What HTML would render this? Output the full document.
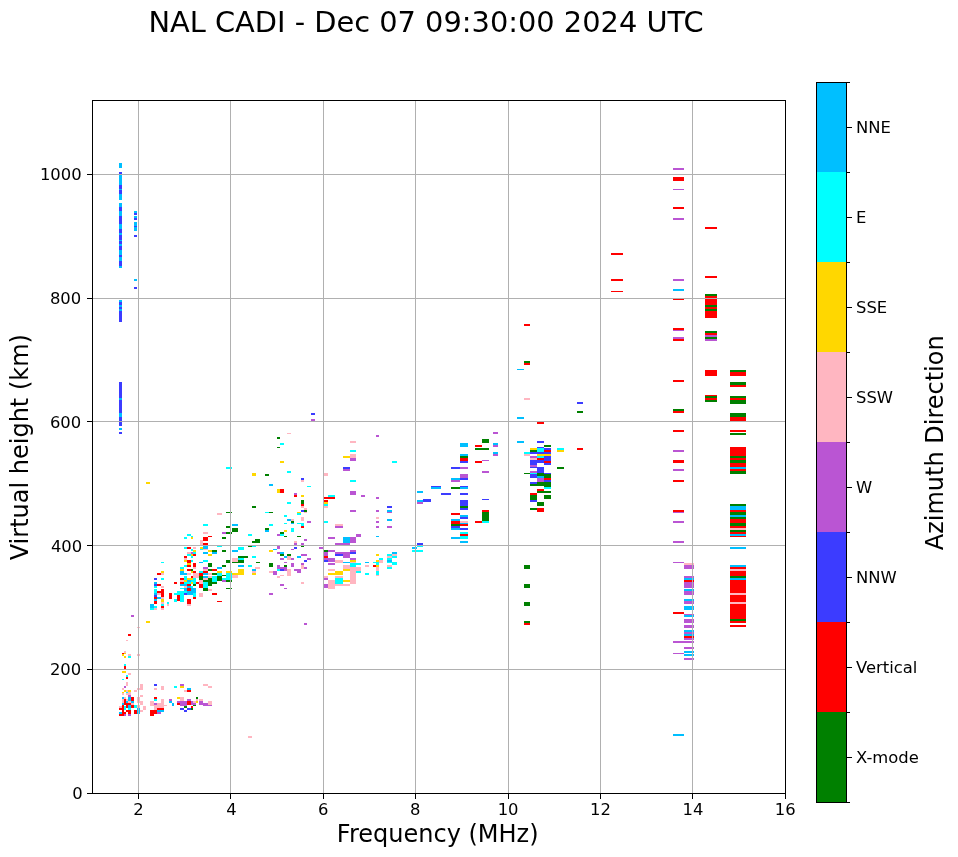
<!DOCTYPE html><html><head><meta charset="utf-8"><style>html,body{margin:0;padding:0;background:#fff;overflow:hidden}svg{display:block}text{font-family:"DejaVu Sans","Liberation Sans",sans-serif;fill:#000}svg{will-change:transform}</style></head><body>
<svg width="958" height="857" viewBox="0 0 958 857" shape-rendering="crispEdges">
<rect width="958" height="857" fill="#fff"/>
<g>
<rect x="119.0" y="163.0" width="3.0" height="5.0" fill="#00bfff"/>
<rect x="119.0" y="172.0" width="3.0" height="2.0" fill="#3c3cff"/>
<rect x="119.0" y="174.0" width="3.0" height="11.0" fill="#00bfff"/>
<rect x="119.0" y="185.0" width="3.0" height="4.0" fill="#3c3cff"/>
<rect x="119.0" y="189.0" width="3.0" height="1.0" fill="#00bfff"/>
<rect x="119.0" y="190.0" width="3.0" height="4.0" fill="#3c3cff"/>
<rect x="119.0" y="194.0" width="3.0" height="6.0" fill="#00bfff"/>
<rect x="119.0" y="203.0" width="3.0" height="4.0" fill="#00bfff"/>
<rect x="119.0" y="207.0" width="3.0" height="4.0" fill="#3c3cff"/>
<rect x="119.0" y="211.0" width="3.0" height="5.0" fill="#00bfff"/>
<rect x="119.0" y="216.0" width="3.0" height="8.0" fill="#3c3cff"/>
<rect x="119.0" y="224.0" width="3.0" height="5.0" fill="#00bfff"/>
<rect x="119.0" y="229.0" width="3.0" height="4.0" fill="#3c3cff"/>
<rect x="119.0" y="233.0" width="3.0" height="2.0" fill="#00bfff"/>
<rect x="119.0" y="235.0" width="3.0" height="5.0" fill="#3c3cff"/>
<rect x="119.0" y="240.0" width="3.0" height="1.0" fill="#00bfff"/>
<rect x="119.0" y="241.0" width="3.0" height="3.0" fill="#3c3cff"/>
<rect x="119.0" y="244.0" width="3.0" height="2.0" fill="#00bfff"/>
<rect x="119.0" y="246.0" width="3.0" height="4.0" fill="#3c3cff"/>
<rect x="119.0" y="250.0" width="3.0" height="5.0" fill="#00bfff"/>
<rect x="119.0" y="255.0" width="3.0" height="2.0" fill="#3c3cff"/>
<rect x="119.0" y="257.0" width="3.0" height="4.0" fill="#00bfff"/>
<rect x="119.0" y="261.0" width="3.0" height="5.0" fill="#3c3cff"/>
<rect x="119.0" y="266.0" width="3.0" height="2.0" fill="#00bfff"/>
<rect x="119.0" y="300.0" width="3.0" height="2.0" fill="#00bfff"/>
<rect x="119.0" y="302.0" width="3.0" height="3.0" fill="#3c3cff"/>
<rect x="119.0" y="305.0" width="3.0" height="2.0" fill="#00bfff"/>
<rect x="119.0" y="307.0" width="3.0" height="2.0" fill="#3c3cff"/>
<rect x="119.0" y="309.0" width="3.0" height="2.0" fill="#00bfff"/>
<rect x="119.0" y="311.0" width="3.0" height="11.0" fill="#3c3cff"/>
<rect x="119.0" y="382.0" width="3.0" height="16.0" fill="#3c3cff"/>
<rect x="119.0" y="398.0" width="3.0" height="2.0" fill="#00bfff"/>
<rect x="119.0" y="400.0" width="3.0" height="13.0" fill="#3c3cff"/>
<rect x="119.0" y="413.0" width="3.0" height="4.0" fill="#00bfff"/>
<rect x="119.0" y="417.0" width="3.0" height="9.0" fill="#3c3cff"/>
<rect x="119.0" y="428.0" width="3.0" height="2.0" fill="#00bfff"/>
<rect x="119.0" y="432.0" width="3.0" height="2.0" fill="#3c3cff"/>
<rect x="134.0" y="211.0" width="3.0" height="2.0" fill="#00bfff"/>
<rect x="134.0" y="213.0" width="3.0" height="2.0" fill="#3c3cff"/>
<rect x="134.0" y="216.0" width="3.0" height="2.0" fill="#00bfff"/>
<rect x="134.0" y="218.0" width="3.0" height="2.0" fill="#3c3cff"/>
<rect x="134.0" y="222.0" width="3.0" height="4.0" fill="#00bfff"/>
<rect x="134.0" y="226.0" width="3.0" height="1.0" fill="#3c3cff"/>
<rect x="134.0" y="227.0" width="3.0" height="4.0" fill="#00bfff"/>
<rect x="134.0" y="235.0" width="3.0" height="2.0" fill="#3c3cff"/>
<rect x="134.0" y="279.0" width="3.0" height="2.0" fill="#00bfff"/>
<rect x="134.0" y="287.0" width="3.0" height="2.0" fill="#3c3cff"/>
<rect x="131.0" y="615.0" width="3.0" height="2.0" fill="#ba55d3"/>
<rect x="146.0" y="621.0" width="4.0" height="2.0" fill="#ffd700"/>
<rect x="137.0" y="627.0" width="3.0" height="1.0" fill="#ffb6c1"/>
<rect x="128.0" y="634.0" width="3.0" height="2.0" fill="#ff0000"/>
<rect x="126.0" y="640.0" width="2.0" height="1.0" fill="#ffb6c1"/>
<rect x="124.0" y="651.0" width="2.0" height="2.0" fill="#ffb6c1"/>
<rect x="122.0" y="653.0" width="2.0" height="1.0" fill="#ff0000"/>
<rect x="124.0" y="653.0" width="2.0" height="1.0" fill="#ffd700"/>
<rect x="122.0" y="654.0" width="2.0" height="2.0" fill="#ffd700"/>
<rect x="128.0" y="654.0" width="3.0" height="2.0" fill="#ffb6c1"/>
<rect x="137.0" y="654.0" width="3.0" height="2.0" fill="#ffb6c1"/>
<rect x="124.0" y="656.0" width="2.0" height="2.0" fill="#ffd700"/>
<rect x="128.0" y="656.0" width="3.0" height="2.0" fill="#00ffff"/>
<rect x="124.0" y="664.0" width="2.0" height="2.0" fill="#00ffff"/>
<rect x="124.0" y="666.0" width="2.0" height="3.0" fill="#ff0000"/>
<rect x="122.0" y="671.0" width="4.0" height="2.0" fill="#ffd700"/>
<rect x="128.0" y="673.0" width="3.0" height="2.0" fill="#ffb6c1"/>
<rect x="126.0" y="675.0" width="2.0" height="2.0" fill="#00ffff"/>
<rect x="126.0" y="677.0" width="2.0" height="2.0" fill="#ff0000"/>
<rect x="122.0" y="679.0" width="2.0" height="1.0" fill="#00ffff"/>
<rect x="126.0" y="682.0" width="2.0" height="4.0" fill="#ffb6c1"/>
<rect x="124.0" y="686.0" width="2.0" height="2.0" fill="#ba55d3"/>
<rect x="122.0" y="688.0" width="2.0" height="2.0" fill="#ffb6c1"/>
<rect x="124.0" y="690.0" width="2.0" height="2.0" fill="#ffd700"/>
<rect x="126.0" y="690.0" width="2.0" height="2.0" fill="#ffb6c1"/>
<rect x="128.0" y="690.0" width="3.0" height="2.0" fill="#ffd700"/>
<rect x="122.0" y="692.0" width="2.0" height="1.0" fill="#ffd700"/>
<rect x="126.0" y="692.0" width="2.0" height="1.0" fill="#00ffff"/>
<rect x="128.0" y="692.0" width="3.0" height="1.0" fill="#ffb6c1"/>
<rect x="122.0" y="693.0" width="2.0" height="2.0" fill="#ffb6c1"/>
<rect x="126.0" y="693.0" width="5.0" height="2.0" fill="#ffb6c1"/>
<rect x="128.0" y="695.0" width="3.0" height="2.0" fill="#ba55d3"/>
<rect x="134.0" y="690.0" width="3.0" height="2.0" fill="#ffb6c1"/>
<rect x="137.0" y="688.0" width="3.0" height="2.0" fill="#ffb6c1"/>
<rect x="140.0" y="684.0" width="3.0" height="6.0" fill="#ffb6c1"/>
<rect x="140.0" y="695.0" width="3.0" height="2.0" fill="#ffb6c1"/>
<rect x="122.0" y="697.0" width="2.0" height="2.0" fill="#00bfff"/>
<rect x="124.0" y="697.0" width="2.0" height="2.0" fill="#ffb6c1"/>
<rect x="128.0" y="697.0" width="3.0" height="4.0" fill="#00bfff"/>
<rect x="131.0" y="697.0" width="3.0" height="4.0" fill="#ff0000"/>
<rect x="137.0" y="697.0" width="3.0" height="6.0" fill="#ffb6c1"/>
<rect x="122.0" y="699.0" width="2.0" height="4.0" fill="#ffb6c1"/>
<rect x="124.0" y="699.0" width="2.0" height="6.0" fill="#ff0000"/>
<rect x="126.0" y="699.0" width="2.0" height="2.0" fill="#ffb6c1"/>
<rect x="126.0" y="701.0" width="2.0" height="2.0" fill="#00bfff"/>
<rect x="128.0" y="701.0" width="3.0" height="2.0" fill="#ffb6c1"/>
<rect x="131.0" y="701.0" width="3.0" height="2.0" fill="#00bfff"/>
<rect x="140.0" y="701.0" width="3.0" height="4.0" fill="#ffb6c1"/>
<rect x="150.0" y="701.0" width="2.0" height="5.0" fill="#ffb6c1"/>
<rect x="122.0" y="703.0" width="2.0" height="2.0" fill="#00bfff"/>
<rect x="126.0" y="703.0" width="5.0" height="2.0" fill="#ff0000"/>
<rect x="131.0" y="703.0" width="3.0" height="2.0" fill="#ffb6c1"/>
<rect x="119.0" y="706.0" width="3.0" height="2.0" fill="#ffb6c1"/>
<rect x="122.0" y="705.0" width="2.0" height="9.0" fill="#ff0000"/>
<rect x="124.0" y="706.0" width="2.0" height="4.0" fill="#00ffff"/>
<rect x="126.0" y="705.0" width="2.0" height="3.0" fill="#ff0000"/>
<rect x="128.0" y="705.0" width="3.0" height="3.0" fill="#00bfff"/>
<rect x="131.0" y="705.0" width="3.0" height="3.0" fill="#ff0000"/>
<rect x="134.0" y="705.0" width="3.0" height="3.0" fill="#00ffff"/>
<rect x="137.0" y="705.0" width="3.0" height="3.0" fill="#ffb6c1"/>
<rect x="143.0" y="706.0" width="3.0" height="4.0" fill="#ffb6c1"/>
<rect x="119.0" y="708.0" width="3.0" height="2.0" fill="#ff0000"/>
<rect x="128.0" y="708.0" width="3.0" height="2.0" fill="#00ffff"/>
<rect x="137.0" y="708.0" width="3.0" height="6.0" fill="#00bfff"/>
<rect x="126.0" y="710.0" width="5.0" height="2.0" fill="#ff0000"/>
<rect x="134.0" y="710.0" width="3.0" height="4.0" fill="#ff0000"/>
<rect x="140.0" y="710.0" width="3.0" height="2.0" fill="#ffb6c1"/>
<rect x="119.0" y="712.0" width="3.0" height="2.0" fill="#00bfff"/>
<rect x="122.0" y="712.0" width="4.0" height="2.0" fill="#ff0000"/>
<rect x="128.0" y="712.0" width="3.0" height="2.0" fill="#ff0000"/>
<rect x="119.0" y="714.0" width="5.0" height="2.0" fill="#ff0000"/>
<rect x="124.0" y="714.0" width="2.0" height="2.0" fill="#ba55d3"/>
<rect x="128.0" y="714.0" width="3.0" height="2.0" fill="#ba55d3"/>
<rect x="150.0" y="710.0" width="2.0" height="6.0" fill="#ff0000"/>
<rect x="150.0" y="604.0" width="4.0" height="4.0" fill="#00bfff"/>
<rect x="150.0" y="608.0" width="4.0" height="2.0" fill="#00ffff"/>
<rect x="154.0" y="578.0" width="3.0" height="2.0" fill="#3c3cff"/>
<rect x="154.0" y="582.0" width="3.0" height="2.0" fill="#00bfff"/>
<rect x="154.0" y="584.0" width="3.0" height="2.0" fill="#3c3cff"/>
<rect x="154.0" y="586.0" width="3.0" height="2.0" fill="#00ffff"/>
<rect x="154.0" y="589.0" width="3.0" height="4.0" fill="#00ffff"/>
<rect x="154.0" y="593.0" width="3.0" height="2.0" fill="#00bfff"/>
<rect x="154.0" y="595.0" width="3.0" height="2.0" fill="#3c3cff"/>
<rect x="154.0" y="597.0" width="3.0" height="2.0" fill="#ff0000"/>
<rect x="154.0" y="599.0" width="3.0" height="2.0" fill="#00bfff"/>
<rect x="154.0" y="601.0" width="3.0" height="3.0" fill="#ff0000"/>
<rect x="154.0" y="606.0" width="3.0" height="2.0" fill="#00ffff"/>
<rect x="154.0" y="608.0" width="3.0" height="2.0" fill="#ffb6c1"/>
<rect x="157.0" y="573.0" width="4.0" height="2.0" fill="#ff0000"/>
<rect x="157.0" y="584.0" width="4.0" height="2.0" fill="#ff0000"/>
<rect x="157.0" y="591.0" width="4.0" height="2.0" fill="#ff0000"/>
<rect x="157.0" y="593.0" width="4.0" height="2.0" fill="#ffb6c1"/>
<rect x="157.0" y="597.0" width="4.0" height="2.0" fill="#00bfff"/>
<rect x="161.0" y="562.0" width="3.0" height="1.0" fill="#00ffff"/>
<rect x="161.0" y="571.0" width="3.0" height="2.0" fill="#ffd700"/>
<rect x="161.0" y="573.0" width="3.0" height="2.0" fill="#ffb6c1"/>
<rect x="161.0" y="578.0" width="3.0" height="2.0" fill="#00ffff"/>
<rect x="161.0" y="586.0" width="3.0" height="2.0" fill="#ffb6c1"/>
<rect x="161.0" y="589.0" width="3.0" height="8.0" fill="#ff0000"/>
<rect x="161.0" y="597.0" width="3.0" height="2.0" fill="#ffb6c1"/>
<rect x="161.0" y="599.0" width="3.0" height="3.0" fill="#ffd700"/>
<rect x="161.0" y="602.0" width="3.0" height="2.0" fill="#ffb6c1"/>
<rect x="161.0" y="604.0" width="3.0" height="2.0" fill="#00ffff"/>
<rect x="161.0" y="606.0" width="3.0" height="2.0" fill="#ff0000"/>
<rect x="161.0" y="608.0" width="3.0" height="2.0" fill="#ffb6c1"/>
<rect x="167.0" y="602.0" width="2.0" height="2.0" fill="#00ffff"/>
<rect x="167.0" y="604.0" width="2.0" height="2.0" fill="#ffb6c1"/>
<rect x="169.0" y="593.0" width="3.0" height="6.0" fill="#ff0000"/>
<rect x="174.0" y="582.0" width="3.0" height="2.0" fill="#ff0000"/>
<rect x="174.0" y="593.0" width="3.0" height="2.0" fill="#00ffff"/>
<rect x="174.0" y="599.0" width="3.0" height="3.0" fill="#00ffff"/>
<rect x="177.0" y="591.0" width="3.0" height="4.0" fill="#00ffff"/>
<rect x="177.0" y="595.0" width="3.0" height="6.0" fill="#ff0000"/>
<rect x="180.0" y="567.0" width="4.0" height="2.0" fill="#00ffff"/>
<rect x="180.0" y="569.0" width="4.0" height="2.0" fill="#ffd700"/>
<rect x="180.0" y="571.0" width="4.0" height="4.0" fill="#00bfff"/>
<rect x="180.0" y="578.0" width="4.0" height="2.0" fill="#ff0000"/>
<rect x="180.0" y="580.0" width="4.0" height="2.0" fill="#ffb6c1"/>
<rect x="180.0" y="582.0" width="4.0" height="2.0" fill="#ff0000"/>
<rect x="180.0" y="584.0" width="4.0" height="2.0" fill="#00bfff"/>
<rect x="180.0" y="588.0" width="4.0" height="1.0" fill="#00ffff"/>
<rect x="180.0" y="591.0" width="4.0" height="11.0" fill="#00ffff"/>
<rect x="184.0" y="560.0" width="3.0" height="2.0" fill="#ffd700"/>
<rect x="184.0" y="565.0" width="3.0" height="2.0" fill="#00ffff"/>
<rect x="184.0" y="573.0" width="3.0" height="2.0" fill="#00bfff"/>
<rect x="184.0" y="576.0" width="3.0" height="4.0" fill="#00ffff"/>
<rect x="184.0" y="580.0" width="3.0" height="2.0" fill="#ffd700"/>
<rect x="184.0" y="582.0" width="3.0" height="2.0" fill="#00ffff"/>
<rect x="184.0" y="584.0" width="3.0" height="2.0" fill="#00bfff"/>
<rect x="184.0" y="586.0" width="3.0" height="2.0" fill="#ffb6c1"/>
<rect x="184.0" y="588.0" width="3.0" height="3.0" fill="#00bfff"/>
<rect x="184.0" y="591.0" width="3.0" height="2.0" fill="#00ffff"/>
<rect x="184.0" y="593.0" width="3.0" height="2.0" fill="#3c3cff"/>
<rect x="187.0" y="560.0" width="4.0" height="3.0" fill="#ff0000"/>
<rect x="187.0" y="563.0" width="4.0" height="2.0" fill="#ffd700"/>
<rect x="187.0" y="565.0" width="4.0" height="2.0" fill="#ff0000"/>
<rect x="187.0" y="569.0" width="4.0" height="2.0" fill="#ff0000"/>
<rect x="187.0" y="573.0" width="4.0" height="2.0" fill="#ffb6c1"/>
<rect x="187.0" y="578.0" width="4.0" height="2.0" fill="#ffd700"/>
<rect x="187.0" y="580.0" width="4.0" height="2.0" fill="#00bfff"/>
<rect x="187.0" y="582.0" width="4.0" height="2.0" fill="#00ffff"/>
<rect x="187.0" y="584.0" width="4.0" height="2.0" fill="#ff0000"/>
<rect x="187.0" y="586.0" width="4.0" height="2.0" fill="#00bfff"/>
<rect x="187.0" y="588.0" width="4.0" height="3.0" fill="#ff0000"/>
<rect x="187.0" y="591.0" width="4.0" height="4.0" fill="#00bfff"/>
<rect x="187.0" y="599.0" width="4.0" height="5.0" fill="#ff0000"/>
<rect x="187.0" y="604.0" width="4.0" height="2.0" fill="#ffb6c1"/>
<rect x="191.0" y="560.0" width="2.0" height="2.0" fill="#00ffff"/>
<rect x="191.0" y="569.0" width="2.0" height="2.0" fill="#008000"/>
<rect x="191.0" y="571.0" width="2.0" height="2.0" fill="#ffd700"/>
<rect x="191.0" y="576.0" width="2.0" height="2.0" fill="#ff0000"/>
<rect x="191.0" y="578.0" width="2.0" height="2.0" fill="#ffd700"/>
<rect x="191.0" y="580.0" width="2.0" height="2.0" fill="#00ffff"/>
<rect x="191.0" y="582.0" width="2.0" height="2.0" fill="#ffd700"/>
<rect x="191.0" y="586.0" width="2.0" height="2.0" fill="#00ffff"/>
<rect x="191.0" y="588.0" width="2.0" height="7.0" fill="#00bfff"/>
<rect x="193.0" y="563.0" width="3.0" height="4.0" fill="#ff0000"/>
<rect x="193.0" y="567.0" width="3.0" height="2.0" fill="#ffb6c1"/>
<rect x="193.0" y="571.0" width="3.0" height="2.0" fill="#ff0000"/>
<rect x="193.0" y="573.0" width="3.0" height="5.0" fill="#ffb6c1"/>
<rect x="193.0" y="578.0" width="3.0" height="6.0" fill="#00ffff"/>
<rect x="193.0" y="584.0" width="3.0" height="2.0" fill="#008000"/>
<rect x="193.0" y="588.0" width="3.0" height="5.0" fill="#00bfff"/>
<rect x="193.0" y="593.0" width="3.0" height="4.0" fill="#00ffff"/>
<rect x="193.0" y="597.0" width="3.0" height="2.0" fill="#ff0000"/>
<rect x="196.0" y="573.0" width="3.0" height="5.0" fill="#ffb6c1"/>
<rect x="196.0" y="582.0" width="3.0" height="2.0" fill="#ff0000"/>
<rect x="199.0" y="562.0" width="4.0" height="1.0" fill="#00bfff"/>
<rect x="199.0" y="571.0" width="4.0" height="2.0" fill="#00ffff"/>
<rect x="199.0" y="573.0" width="4.0" height="3.0" fill="#ff0000"/>
<rect x="199.0" y="576.0" width="4.0" height="4.0" fill="#008000"/>
<rect x="199.0" y="580.0" width="4.0" height="4.0" fill="#ffb6c1"/>
<rect x="199.0" y="584.0" width="4.0" height="4.0" fill="#ff0000"/>
<rect x="199.0" y="593.0" width="4.0" height="4.0" fill="#ffb6c1"/>
<rect x="200.0" y="540.0" width="3.0" height="5.0" fill="#ffb6c1"/>
<rect x="200.0" y="547.0" width="3.0" height="2.0" fill="#ffd700"/>
<rect x="200.0" y="549.0" width="3.0" height="1.0" fill="#00ffff"/>
<rect x="200.0" y="562.0" width="3.0" height="1.0" fill="#00bfff"/>
<rect x="200.0" y="573.0" width="3.0" height="2.0" fill="#ff0000"/>
<rect x="200.0" y="576.0" width="3.0" height="4.0" fill="#008000"/>
<rect x="200.0" y="580.0" width="3.0" height="3.0" fill="#ffb6c1"/>
<rect x="200.0" y="584.0" width="3.0" height="4.0" fill="#ff0000"/>
<rect x="200.0" y="593.0" width="3.0" height="4.0" fill="#ffb6c1"/>
<rect x="203.0" y="540.0" width="5.0" height="1.0" fill="#ff0000"/>
<rect x="203.0" y="543.0" width="5.0" height="2.0" fill="#ff0000"/>
<rect x="203.0" y="546.0" width="5.0" height="3.0" fill="#00bfff"/>
<rect x="203.0" y="549.0" width="5.0" height="1.0" fill="#ffb6c1"/>
<rect x="203.0" y="552.0" width="5.0" height="2.0" fill="#00bfff"/>
<rect x="203.0" y="560.0" width="5.0" height="2.0" fill="#00ffff"/>
<rect x="203.0" y="567.0" width="5.0" height="2.0" fill="#ba55d3"/>
<rect x="203.0" y="569.0" width="5.0" height="2.0" fill="#ffb6c1"/>
<rect x="203.0" y="571.0" width="5.0" height="2.0" fill="#ff0000"/>
<rect x="203.0" y="573.0" width="5.0" height="2.0" fill="#00bfff"/>
<rect x="203.0" y="576.0" width="5.0" height="2.0" fill="#00bfff"/>
<rect x="203.0" y="578.0" width="5.0" height="2.0" fill="#ffb6c1"/>
<rect x="203.0" y="580.0" width="5.0" height="2.0" fill="#008000"/>
<rect x="203.0" y="582.0" width="5.0" height="6.0" fill="#00ffff"/>
<rect x="203.0" y="588.0" width="5.0" height="3.0" fill="#008000"/>
<rect x="208.0" y="550.0" width="4.0" height="2.0" fill="#ffd700"/>
<rect x="208.0" y="554.0" width="4.0" height="2.0" fill="#ffd700"/>
<rect x="208.0" y="563.0" width="4.0" height="4.0" fill="#008000"/>
<rect x="208.0" y="569.0" width="4.0" height="2.0" fill="#008000"/>
<rect x="208.0" y="573.0" width="4.0" height="2.0" fill="#ffb6c1"/>
<rect x="208.0" y="576.0" width="4.0" height="2.0" fill="#ffb6c1"/>
<rect x="208.0" y="578.0" width="4.0" height="8.0" fill="#008000"/>
<rect x="208.0" y="589.0" width="4.0" height="2.0" fill="#ffb6c1"/>
<rect x="212.0" y="550.0" width="5.0" height="2.0" fill="#008000"/>
<rect x="212.0" y="552.0" width="5.0" height="2.0" fill="#00bfff"/>
<rect x="212.0" y="569.0" width="5.0" height="2.0" fill="#ff0000"/>
<rect x="212.0" y="573.0" width="5.0" height="2.0" fill="#008000"/>
<rect x="212.0" y="576.0" width="5.0" height="6.0" fill="#00ffff"/>
<rect x="212.0" y="582.0" width="5.0" height="2.0" fill="#008000"/>
<rect x="212.0" y="593.0" width="5.0" height="2.0" fill="#ff0000"/>
<rect x="217.0" y="546.0" width="5.0" height="1.0" fill="#00ffff"/>
<rect x="217.0" y="567.0" width="5.0" height="2.0" fill="#00bfff"/>
<rect x="217.0" y="571.0" width="5.0" height="2.0" fill="#ffd700"/>
<rect x="217.0" y="573.0" width="5.0" height="3.0" fill="#00ffff"/>
<rect x="217.0" y="576.0" width="5.0" height="5.0" fill="#008000"/>
<rect x="217.0" y="601.0" width="5.0" height="1.0" fill="#ff0000"/>
<rect x="222.0" y="550.0" width="4.0" height="2.0" fill="#008000"/>
<rect x="222.0" y="565.0" width="4.0" height="2.0" fill="#008000"/>
<rect x="222.0" y="575.0" width="4.0" height="1.0" fill="#008000"/>
<rect x="222.0" y="578.0" width="4.0" height="2.0" fill="#00ffff"/>
<rect x="222.0" y="580.0" width="4.0" height="2.0" fill="#ba55d3"/>
<rect x="226.0" y="560.0" width="4.0" height="3.0" fill="#008000"/>
<rect x="226.0" y="571.0" width="6.0" height="2.0" fill="#ffd700"/>
<rect x="226.0" y="573.0" width="6.0" height="7.0" fill="#00ffff"/>
<rect x="226.0" y="580.0" width="6.0" height="2.0" fill="#008000"/>
<rect x="226.0" y="588.0" width="6.0" height="1.0" fill="#008000"/>
<rect x="232.0" y="550.0" width="6.0" height="2.0" fill="#00bfff"/>
<rect x="232.0" y="558.0" width="6.0" height="4.0" fill="#ffb6c1"/>
<rect x="232.0" y="562.0" width="6.0" height="1.0" fill="#008000"/>
<rect x="232.0" y="573.0" width="6.0" height="2.0" fill="#ffd700"/>
<rect x="232.0" y="575.0" width="6.0" height="3.0" fill="#ffb6c1"/>
<rect x="238.0" y="547.0" width="6.0" height="3.0" fill="#00ffff"/>
<rect x="238.0" y="556.0" width="6.0" height="2.0" fill="#008000"/>
<rect x="238.0" y="558.0" width="6.0" height="2.0" fill="#00ffff"/>
<rect x="238.0" y="560.0" width="6.0" height="3.0" fill="#008000"/>
<rect x="238.0" y="565.0" width="6.0" height="2.0" fill="#00bfff"/>
<rect x="238.0" y="569.0" width="6.0" height="6.0" fill="#ffd700"/>
<rect x="244.0" y="556.0" width="4.0" height="2.0" fill="#008000"/>
<rect x="248.0" y="546.0" width="4.0" height="1.0" fill="#008000"/>
<rect x="248.0" y="565.0" width="4.0" height="2.0" fill="#00ffff"/>
<rect x="252.0" y="541.0" width="4.0" height="2.0" fill="#008000"/>
<rect x="252.0" y="546.0" width="4.0" height="1.0" fill="#00ffff"/>
<rect x="252.0" y="556.0" width="4.0" height="2.0" fill="#00ffff"/>
<rect x="252.0" y="569.0" width="4.0" height="2.0" fill="#00bfff"/>
<rect x="252.0" y="571.0" width="4.0" height="2.0" fill="#ffb6c1"/>
<rect x="252.0" y="573.0" width="4.0" height="2.0" fill="#ffd700"/>
<rect x="256.0" y="540.0" width="4.0" height="3.0" fill="#008000"/>
<rect x="256.0" y="562.0" width="4.0" height="1.0" fill="#008000"/>
<rect x="256.0" y="567.0" width="4.0" height="2.0" fill="#ffb6c1"/>
<rect x="146.0" y="482.0" width="4.0" height="2.0" fill="#ffd700"/>
<rect x="187.0" y="534.0" width="4.0" height="2.0" fill="#00ffff"/>
<rect x="191.0" y="536.0" width="2.0" height="1.0" fill="#00ffff"/>
<rect x="191.0" y="537.0" width="2.0" height="2.0" fill="#ffd700"/>
<rect x="184.0" y="537.0" width="3.0" height="2.0" fill="#00ffff"/>
<rect x="184.0" y="547.0" width="3.0" height="2.0" fill="#00ffff"/>
<rect x="187.0" y="547.0" width="4.0" height="2.0" fill="#ff0000"/>
<rect x="193.0" y="547.0" width="3.0" height="2.0" fill="#ffb6c1"/>
<rect x="191.0" y="549.0" width="2.0" height="2.0" fill="#00ffff"/>
<rect x="193.0" y="550.0" width="3.0" height="2.0" fill="#ffd700"/>
<rect x="187.0" y="552.0" width="4.0" height="2.0" fill="#ffb6c1"/>
<rect x="191.0" y="552.0" width="2.0" height="2.0" fill="#ba55d3"/>
<rect x="193.0" y="552.0" width="3.0" height="2.0" fill="#00ffff"/>
<rect x="187.0" y="554.0" width="4.0" height="2.0" fill="#00ffff"/>
<rect x="191.0" y="554.0" width="2.0" height="2.0" fill="#ffd700"/>
<rect x="193.0" y="554.0" width="3.0" height="2.0" fill="#ff0000"/>
<rect x="184.0" y="556.0" width="3.0" height="2.0" fill="#ff0000"/>
<rect x="191.0" y="556.0" width="2.0" height="2.0" fill="#00ffff"/>
<rect x="184.0" y="558.0" width="3.0" height="2.0" fill="#ffb6c1"/>
<rect x="252.0" y="506.0" width="4.0" height="2.0" fill="#008000"/>
<rect x="226.0" y="512.0" width="6.0" height="1.0" fill="#008000"/>
<rect x="217.0" y="513.0" width="5.0" height="2.0" fill="#ffb6c1"/>
<rect x="203.0" y="524.0" width="5.0" height="2.0" fill="#00ffff"/>
<rect x="232.0" y="524.0" width="6.0" height="2.0" fill="#00bfff"/>
<rect x="226.0" y="526.0" width="5.0" height="2.0" fill="#008000"/>
<rect x="232.0" y="528.0" width="6.0" height="4.0" fill="#008000"/>
<rect x="203.0" y="532.0" width="5.0" height="2.0" fill="#ffb6c1"/>
<rect x="222.0" y="532.0" width="4.0" height="2.0" fill="#ba55d3"/>
<rect x="226.0" y="532.0" width="6.0" height="2.0" fill="#008000"/>
<rect x="248.0" y="534.0" width="4.0" height="2.0" fill="#00ffff"/>
<rect x="208.0" y="536.0" width="4.0" height="1.0" fill="#ff0000"/>
<rect x="203.0" y="537.0" width="5.0" height="4.0" fill="#ff0000"/>
<rect x="222.0" y="537.0" width="4.0" height="2.0" fill="#008000"/>
<rect x="256.0" y="539.0" width="4.0" height="1.0" fill="#008000"/>
<rect x="280.0" y="443.0" width="4.0" height="2.0" fill="#00ffff"/>
<rect x="277.0" y="447.0" width="3.0" height="1.0" fill="#008000"/>
<rect x="280.0" y="461.0" width="4.0" height="2.0" fill="#ffd700"/>
<rect x="252.0" y="473.0" width="4.0" height="3.0" fill="#ffd700"/>
<rect x="265.0" y="474.0" width="4.0" height="2.0" fill="#008000"/>
<rect x="287.0" y="471.0" width="4.0" height="2.0" fill="#00ffff"/>
<rect x="324.0" y="473.0" width="4.0" height="3.0" fill="#ffb6c1"/>
<rect x="301.0" y="478.0" width="3.0" height="2.0" fill="#3c3cff"/>
<rect x="301.0" y="480.0" width="3.0" height="2.0" fill="#ffb6c1"/>
<rect x="269.0" y="484.0" width="4.0" height="2.0" fill="#00bfff"/>
<rect x="307.0" y="486.0" width="4.0" height="1.0" fill="#00ffff"/>
<rect x="277.0" y="489.0" width="3.0" height="4.0" fill="#ffd700"/>
<rect x="280.0" y="489.0" width="4.0" height="4.0" fill="#ff0000"/>
<rect x="294.0" y="493.0" width="3.0" height="2.0" fill="#ba55d3"/>
<rect x="294.0" y="495.0" width="3.0" height="2.0" fill="#ff0000"/>
<rect x="301.0" y="495.0" width="3.0" height="2.0" fill="#ffd700"/>
<rect x="328.0" y="495.0" width="7.0" height="2.0" fill="#00ffff"/>
<rect x="324.0" y="497.0" width="11.0" height="2.0" fill="#ff0000"/>
<rect x="324.0" y="500.0" width="4.0" height="2.0" fill="#ff0000"/>
<rect x="324.0" y="502.0" width="4.0" height="2.0" fill="#ffd700"/>
<rect x="324.0" y="504.0" width="4.0" height="2.0" fill="#00ffff"/>
<rect x="324.0" y="506.0" width="4.0" height="2.0" fill="#ffb6c1"/>
<rect x="287.0" y="502.0" width="4.0" height="2.0" fill="#00ffff"/>
<rect x="301.0" y="500.0" width="3.0" height="4.0" fill="#008000"/>
<rect x="301.0" y="504.0" width="3.0" height="2.0" fill="#ff0000"/>
<rect x="301.0" y="506.0" width="3.0" height="2.0" fill="#ffb6c1"/>
<rect x="252.0" y="506.0" width="4.0" height="2.0" fill="#008000"/>
<rect x="304.0" y="508.0" width="3.0" height="2.0" fill="#ffb6c1"/>
<rect x="304.0" y="510.0" width="3.0" height="2.0" fill="#008000"/>
<rect x="304.0" y="512.0" width="3.0" height="1.0" fill="#ffb6c1"/>
<rect x="301.0" y="510.0" width="3.0" height="2.0" fill="#3c3cff"/>
<rect x="297.0" y="512.0" width="4.0" height="1.0" fill="#ffd700"/>
<rect x="297.0" y="513.0" width="4.0" height="2.0" fill="#00ffff"/>
<rect x="265.0" y="512.0" width="4.0" height="1.0" fill="#00ffff"/>
<rect x="269.0" y="512.0" width="4.0" height="1.0" fill="#008000"/>
<rect x="284.0" y="515.0" width="3.0" height="2.0" fill="#00ffff"/>
<rect x="301.0" y="517.0" width="3.0" height="4.0" fill="#ffb6c1"/>
<rect x="291.0" y="519.0" width="3.0" height="2.0" fill="#ffb6c1"/>
<rect x="287.0" y="519.0" width="4.0" height="2.0" fill="#00bfff"/>
<rect x="291.0" y="521.0" width="3.0" height="2.0" fill="#008000"/>
<rect x="291.0" y="523.0" width="3.0" height="1.0" fill="#00bfff"/>
<rect x="307.0" y="521.0" width="4.0" height="2.0" fill="#ba55d3"/>
<rect x="269.0" y="524.0" width="4.0" height="2.0" fill="#00ffff"/>
<rect x="284.0" y="523.0" width="3.0" height="1.0" fill="#00ffff"/>
<rect x="297.0" y="523.0" width="7.0" height="1.0" fill="#00ffff"/>
<rect x="301.0" y="524.0" width="3.0" height="2.0" fill="#00ffff"/>
<rect x="301.0" y="526.0" width="3.0" height="2.0" fill="#ff0000"/>
<rect x="265.0" y="528.0" width="4.0" height="2.0" fill="#008000"/>
<rect x="265.0" y="530.0" width="4.0" height="2.0" fill="#00bfff"/>
<rect x="291.0" y="528.0" width="3.0" height="4.0" fill="#00ffff"/>
<rect x="284.0" y="530.0" width="3.0" height="2.0" fill="#ffd700"/>
<rect x="280.0" y="532.0" width="4.0" height="2.0" fill="#008000"/>
<rect x="280.0" y="534.0" width="4.0" height="2.0" fill="#00ffff"/>
<rect x="277.0" y="534.0" width="3.0" height="2.0" fill="#ba55d3"/>
<rect x="284.0" y="536.0" width="3.0" height="1.0" fill="#008000"/>
<rect x="297.0" y="536.0" width="4.0" height="1.0" fill="#008000"/>
<rect x="328.0" y="537.0" width="7.0" height="2.0" fill="#ba55d3"/>
<rect x="255.0" y="539.0" width="5.0" height="4.0" fill="#008000"/>
<rect x="304.0" y="539.0" width="3.0" height="2.0" fill="#ba55d3"/>
<rect x="294.0" y="541.0" width="3.0" height="2.0" fill="#ffb6c1"/>
<rect x="294.0" y="543.0" width="3.0" height="2.0" fill="#ba55d3"/>
<rect x="301.0" y="543.0" width="3.0" height="2.0" fill="#ba55d3"/>
<rect x="277.0" y="546.0" width="3.0" height="3.0" fill="#ba55d3"/>
<rect x="294.0" y="547.0" width="3.0" height="2.0" fill="#3c3cff"/>
<rect x="301.0" y="546.0" width="3.0" height="1.0" fill="#008000"/>
<rect x="319.0" y="547.0" width="4.0" height="2.0" fill="#ba55d3"/>
<rect x="273.0" y="549.0" width="4.0" height="1.0" fill="#00bfff"/>
<rect x="291.0" y="549.0" width="3.0" height="1.0" fill="#ba55d3"/>
<rect x="269.0" y="550.0" width="4.0" height="2.0" fill="#ffd700"/>
<rect x="324.0" y="550.0" width="4.0" height="2.0" fill="#008000"/>
<rect x="328.0" y="550.0" width="7.0" height="2.0" fill="#ba55d3"/>
<rect x="277.0" y="552.0" width="3.0" height="2.0" fill="#ba55d3"/>
<rect x="280.0" y="552.0" width="4.0" height="2.0" fill="#00bfff"/>
<rect x="324.0" y="552.0" width="4.0" height="4.0" fill="#ba55d3"/>
<rect x="280.0" y="554.0" width="4.0" height="2.0" fill="#008000"/>
<rect x="287.0" y="554.0" width="4.0" height="2.0" fill="#008000"/>
<rect x="301.0" y="554.0" width="6.0" height="2.0" fill="#ba55d3"/>
<rect x="284.0" y="556.0" width="3.0" height="2.0" fill="#00bfff"/>
<rect x="287.0" y="556.0" width="4.0" height="4.0" fill="#ffb6c1"/>
<rect x="297.0" y="556.0" width="4.0" height="2.0" fill="#00bfff"/>
<rect x="324.0" y="556.0" width="4.0" height="2.0" fill="#ff0000"/>
<rect x="280.0" y="558.0" width="4.0" height="2.0" fill="#ba55d3"/>
<rect x="291.0" y="558.0" width="3.0" height="2.0" fill="#ba55d3"/>
<rect x="307.0" y="558.0" width="4.0" height="2.0" fill="#ba55d3"/>
<rect x="324.0" y="558.0" width="11.0" height="2.0" fill="#ba55d3"/>
<rect x="304.0" y="560.0" width="3.0" height="2.0" fill="#3c3cff"/>
<rect x="284.0" y="562.0" width="3.0" height="1.0" fill="#ba55d3"/>
<rect x="269.0" y="563.0" width="4.0" height="4.0" fill="#008000"/>
<rect x="277.0" y="565.0" width="3.0" height="2.0" fill="#ba55d3"/>
<rect x="284.0" y="565.0" width="3.0" height="2.0" fill="#008000"/>
<rect x="291.0" y="563.0" width="3.0" height="4.0" fill="#ba55d3"/>
<rect x="301.0" y="563.0" width="3.0" height="2.0" fill="#ba55d3"/>
<rect x="301.0" y="565.0" width="3.0" height="4.0" fill="#ffb6c1"/>
<rect x="255.0" y="567.0" width="5.0" height="2.0" fill="#ffb6c1"/>
<rect x="277.0" y="567.0" width="10.0" height="2.0" fill="#ba55d3"/>
<rect x="304.0" y="567.0" width="3.0" height="2.0" fill="#ba55d3"/>
<rect x="277.0" y="569.0" width="3.0" height="2.0" fill="#00ffff"/>
<rect x="280.0" y="569.0" width="4.0" height="2.0" fill="#3c3cff"/>
<rect x="284.0" y="569.0" width="3.0" height="2.0" fill="#ba55d3"/>
<rect x="294.0" y="569.0" width="7.0" height="2.0" fill="#ba55d3"/>
<rect x="297.0" y="571.0" width="4.0" height="2.0" fill="#ba55d3"/>
<rect x="287.0" y="569.0" width="4.0" height="7.0" fill="#ffb6c1"/>
<rect x="269.0" y="571.0" width="4.0" height="2.0" fill="#ffb6c1"/>
<rect x="273.0" y="571.0" width="4.0" height="4.0" fill="#ba55d3"/>
<rect x="280.0" y="575.0" width="4.0" height="1.0" fill="#ffb6c1"/>
<rect x="277.0" y="576.0" width="3.0" height="2.0" fill="#ffb6c1"/>
<rect x="301.0" y="582.0" width="3.0" height="2.0" fill="#ffb6c1"/>
<rect x="280.0" y="584.0" width="4.0" height="2.0" fill="#ba55d3"/>
<rect x="284.0" y="588.0" width="3.0" height="1.0" fill="#ba55d3"/>
<rect x="269.0" y="593.0" width="4.0" height="2.0" fill="#ba55d3"/>
<rect x="304.0" y="623.0" width="3.0" height="2.0" fill="#ba55d3"/>
<rect x="376.0" y="435.0" width="3.0" height="2.0" fill="#ba55d3"/>
<rect x="350.0" y="441.0" width="6.0" height="2.0" fill="#ffb6c1"/>
<rect x="350.0" y="450.0" width="6.0" height="2.0" fill="#00ffff"/>
<rect x="350.0" y="454.0" width="6.0" height="4.0" fill="#ffb6c1"/>
<rect x="343.0" y="456.0" width="7.0" height="2.0" fill="#ffd700"/>
<rect x="350.0" y="458.0" width="6.0" height="3.0" fill="#ba55d3"/>
<rect x="392.0" y="461.0" width="5.0" height="2.0" fill="#00ffff"/>
<rect x="343.0" y="467.0" width="7.0" height="2.0" fill="#3c3cff"/>
<rect x="343.0" y="469.0" width="7.0" height="2.0" fill="#ba55d3"/>
<rect x="350.0" y="480.0" width="6.0" height="2.0" fill="#00ffff"/>
<rect x="350.0" y="491.0" width="6.0" height="4.0" fill="#ba55d3"/>
<rect x="361.0" y="495.0" width="4.0" height="2.0" fill="#ba55d3"/>
<rect x="376.0" y="497.0" width="3.0" height="2.0" fill="#ba55d3"/>
<rect x="387.0" y="506.0" width="5.0" height="2.0" fill="#3c3cff"/>
<rect x="350.0" y="510.0" width="6.0" height="2.0" fill="#ba55d3"/>
<rect x="376.0" y="510.0" width="3.0" height="2.0" fill="#ba55d3"/>
<rect x="387.0" y="510.0" width="5.0" height="2.0" fill="#00bfff"/>
<rect x="387.0" y="512.0" width="5.0" height="1.0" fill="#ba55d3"/>
<rect x="376.0" y="517.0" width="3.0" height="2.0" fill="#ffb6c1"/>
<rect x="387.0" y="519.0" width="5.0" height="2.0" fill="#00bfff"/>
<rect x="324.0" y="521.0" width="4.0" height="2.0" fill="#00ffff"/>
<rect x="376.0" y="521.0" width="3.0" height="2.0" fill="#ba55d3"/>
<rect x="335.0" y="524.0" width="8.0" height="2.0" fill="#ffb6c1"/>
<rect x="335.0" y="526.0" width="8.0" height="2.0" fill="#ba55d3"/>
<rect x="376.0" y="526.0" width="3.0" height="2.0" fill="#ba55d3"/>
<rect x="387.0" y="526.0" width="5.0" height="2.0" fill="#ba55d3"/>
<rect x="356.0" y="534.0" width="5.0" height="3.0" fill="#ba55d3"/>
<rect x="376.0" y="536.0" width="3.0" height="1.0" fill="#00bfff"/>
<rect x="343.0" y="537.0" width="7.0" height="6.0" fill="#00bfff"/>
<rect x="350.0" y="537.0" width="6.0" height="6.0" fill="#ba55d3"/>
<rect x="324.0" y="558.0" width="4.0" height="2.0" fill="#ba55d3"/>
<rect x="328.0" y="558.0" width="7.0" height="4.0" fill="#ba55d3"/>
<rect x="328.0" y="563.0" width="7.0" height="2.0" fill="#ba55d3"/>
<rect x="328.0" y="569.0" width="7.0" height="2.0" fill="#ffb6c1"/>
<rect x="328.0" y="573.0" width="7.0" height="2.0" fill="#ffd700"/>
<rect x="324.0" y="576.0" width="4.0" height="2.0" fill="#ffb6c1"/>
<rect x="324.0" y="578.0" width="4.0" height="2.0" fill="#ba55d3"/>
<rect x="328.0" y="580.0" width="7.0" height="9.0" fill="#ffb6c1"/>
<rect x="324.0" y="584.0" width="4.0" height="4.0" fill="#ba55d3"/>
<rect x="335.0" y="543.0" width="15.0" height="2.0" fill="#ba55d3"/>
<rect x="335.0" y="552.0" width="15.0" height="2.0" fill="#ba55d3"/>
<rect x="350.0" y="550.0" width="6.0" height="2.0" fill="#ba55d3"/>
<rect x="350.0" y="552.0" width="6.0" height="2.0" fill="#3c3cff"/>
<rect x="335.0" y="554.0" width="8.0" height="2.0" fill="#3c3cff"/>
<rect x="343.0" y="554.0" width="7.0" height="4.0" fill="#ba55d3"/>
<rect x="376.0" y="554.0" width="3.0" height="2.0" fill="#ffd700"/>
<rect x="392.0" y="552.0" width="5.0" height="2.0" fill="#00bfff"/>
<rect x="387.0" y="554.0" width="5.0" height="2.0" fill="#00ffff"/>
<rect x="392.0" y="554.0" width="5.0" height="2.0" fill="#ffb6c1"/>
<rect x="392.0" y="556.0" width="5.0" height="2.0" fill="#00ffff"/>
<rect x="387.0" y="556.0" width="5.0" height="2.0" fill="#ffb6c1"/>
<rect x="350.0" y="558.0" width="6.0" height="2.0" fill="#ba55d3"/>
<rect x="350.0" y="560.0" width="6.0" height="2.0" fill="#ffd700"/>
<rect x="335.0" y="560.0" width="8.0" height="3.0" fill="#ffb6c1"/>
<rect x="379.0" y="558.0" width="4.0" height="2.0" fill="#00ffff"/>
<rect x="379.0" y="560.0" width="4.0" height="3.0" fill="#ffb6c1"/>
<rect x="376.0" y="560.0" width="3.0" height="2.0" fill="#ffd700"/>
<rect x="387.0" y="558.0" width="5.0" height="2.0" fill="#00ffff"/>
<rect x="387.0" y="560.0" width="5.0" height="2.0" fill="#00bfff"/>
<rect x="387.0" y="562.0" width="5.0" height="1.0" fill="#00ffff"/>
<rect x="343.0" y="562.0" width="7.0" height="1.0" fill="#00bfff"/>
<rect x="350.0" y="562.0" width="6.0" height="1.0" fill="#ffb6c1"/>
<rect x="356.0" y="563.0" width="5.0" height="2.0" fill="#00ffff"/>
<rect x="350.0" y="563.0" width="6.0" height="4.0" fill="#00ffff"/>
<rect x="365.0" y="562.0" width="4.0" height="1.0" fill="#00bfff"/>
<rect x="373.0" y="562.0" width="3.0" height="1.0" fill="#00ffff"/>
<rect x="376.0" y="562.0" width="3.0" height="3.0" fill="#00ffff"/>
<rect x="392.0" y="562.0" width="5.0" height="3.0" fill="#00ffff"/>
<rect x="343.0" y="565.0" width="7.0" height="4.0" fill="#ffb6c1"/>
<rect x="365.0" y="565.0" width="4.0" height="2.0" fill="#ffb6c1"/>
<rect x="373.0" y="565.0" width="3.0" height="2.0" fill="#ff0000"/>
<rect x="376.0" y="565.0" width="3.0" height="2.0" fill="#ffd700"/>
<rect x="387.0" y="565.0" width="5.0" height="2.0" fill="#ffb6c1"/>
<rect x="387.0" y="567.0" width="5.0" height="2.0" fill="#00ffff"/>
<rect x="350.0" y="567.0" width="11.0" height="4.0" fill="#ffb6c1"/>
<rect x="356.0" y="571.0" width="5.0" height="2.0" fill="#00ffff"/>
<rect x="343.0" y="569.0" width="7.0" height="2.0" fill="#ffd700"/>
<rect x="335.0" y="571.0" width="8.0" height="4.0" fill="#ffd700"/>
<rect x="350.0" y="571.0" width="6.0" height="13.0" fill="#ffb6c1"/>
<rect x="376.0" y="567.0" width="3.0" height="4.0" fill="#ffb6c1"/>
<rect x="376.0" y="571.0" width="3.0" height="4.0" fill="#00ffff"/>
<rect x="376.0" y="575.0" width="3.0" height="1.0" fill="#ffb6c1"/>
<rect x="365.0" y="573.0" width="4.0" height="2.0" fill="#00ffff"/>
<rect x="335.0" y="576.0" width="8.0" height="2.0" fill="#ffb6c1"/>
<rect x="335.0" y="578.0" width="8.0" height="6.0" fill="#00ffff"/>
<rect x="343.0" y="580.0" width="7.0" height="2.0" fill="#ffd700"/>
<rect x="335.0" y="584.0" width="15.0" height="2.0" fill="#ffb6c1"/>
<rect x="324.0" y="560.0" width="4.0" height="2.0" fill="#3c3cff"/>
<rect x="460.0" y="443.0" width="8.0" height="4.0" fill="#00bfff"/>
<rect x="460.0" y="454.0" width="8.0" height="2.0" fill="#00bfff"/>
<rect x="460.0" y="456.0" width="8.0" height="2.0" fill="#008000"/>
<rect x="460.0" y="458.0" width="8.0" height="3.0" fill="#ff0000"/>
<rect x="460.0" y="461.0" width="8.0" height="2.0" fill="#3c3cff"/>
<rect x="451.0" y="467.0" width="9.0" height="2.0" fill="#3c3cff"/>
<rect x="460.0" y="467.0" width="8.0" height="2.0" fill="#ba55d3"/>
<rect x="460.0" y="474.0" width="8.0" height="4.0" fill="#ba55d3"/>
<rect x="460.0" y="478.0" width="8.0" height="2.0" fill="#3c3cff"/>
<rect x="451.0" y="478.0" width="9.0" height="2.0" fill="#00bfff"/>
<rect x="451.0" y="480.0" width="9.0" height="2.0" fill="#ba55d3"/>
<rect x="431.0" y="486.0" width="10.0" height="1.0" fill="#3c3cff"/>
<rect x="431.0" y="487.0" width="10.0" height="2.0" fill="#00bfff"/>
<rect x="451.0" y="487.0" width="9.0" height="2.0" fill="#008000"/>
<rect x="460.0" y="486.0" width="8.0" height="1.0" fill="#3c3cff"/>
<rect x="460.0" y="487.0" width="8.0" height="2.0" fill="#00bfff"/>
<rect x="417.0" y="491.0" width="6.0" height="2.0" fill="#00bfff"/>
<rect x="441.0" y="493.0" width="10.0" height="2.0" fill="#3c3cff"/>
<rect x="460.0" y="493.0" width="8.0" height="2.0" fill="#3c3cff"/>
<rect x="423.0" y="499.0" width="8.0" height="3.0" fill="#3c3cff"/>
<rect x="417.0" y="500.0" width="6.0" height="2.0" fill="#00bfff"/>
<rect x="417.0" y="502.0" width="6.0" height="2.0" fill="#ba55d3"/>
<rect x="460.0" y="500.0" width="8.0" height="6.0" fill="#3c3cff"/>
<rect x="460.0" y="506.0" width="8.0" height="2.0" fill="#008000"/>
<rect x="460.0" y="508.0" width="8.0" height="2.0" fill="#3c3cff"/>
<rect x="451.0" y="513.0" width="9.0" height="2.0" fill="#ff0000"/>
<rect x="460.0" y="515.0" width="8.0" height="2.0" fill="#00bfff"/>
<rect x="460.0" y="517.0" width="8.0" height="2.0" fill="#3c3cff"/>
<rect x="451.0" y="519.0" width="9.0" height="2.0" fill="#00bfff"/>
<rect x="451.0" y="521.0" width="9.0" height="3.0" fill="#ff0000"/>
<rect x="451.0" y="524.0" width="9.0" height="2.0" fill="#008000"/>
<rect x="451.0" y="526.0" width="9.0" height="2.0" fill="#3c3cff"/>
<rect x="451.0" y="528.0" width="9.0" height="2.0" fill="#00bfff"/>
<rect x="460.0" y="521.0" width="8.0" height="2.0" fill="#ffb6c1"/>
<rect x="460.0" y="523.0" width="8.0" height="1.0" fill="#00bfff"/>
<rect x="460.0" y="524.0" width="8.0" height="2.0" fill="#ff0000"/>
<rect x="460.0" y="528.0" width="8.0" height="2.0" fill="#3c3cff"/>
<rect x="460.0" y="532.0" width="8.0" height="2.0" fill="#00ffff"/>
<rect x="460.0" y="534.0" width="8.0" height="2.0" fill="#ff0000"/>
<rect x="460.0" y="536.0" width="8.0" height="3.0" fill="#00ffff"/>
<rect x="451.0" y="537.0" width="9.0" height="2.0" fill="#00bfff"/>
<rect x="460.0" y="541.0" width="8.0" height="2.0" fill="#00bfff"/>
<rect x="417.0" y="543.0" width="6.0" height="2.0" fill="#3c3cff"/>
<rect x="417.0" y="545.0" width="6.0" height="2.0" fill="#00ffff"/>
<rect x="412.0" y="547.0" width="5.0" height="2.0" fill="#00bfff"/>
<rect x="412.0" y="550.0" width="11.0" height="2.0" fill="#00ffff"/>
<rect x="493.0" y="432.0" width="5.0" height="2.0" fill="#ba55d3"/>
<rect x="482.0" y="439.0" width="7.0" height="4.0" fill="#008000"/>
<rect x="475.0" y="445.0" width="7.0" height="2.0" fill="#ff0000"/>
<rect x="493.0" y="443.0" width="5.0" height="2.0" fill="#00bfff"/>
<rect x="493.0" y="445.0" width="5.0" height="2.0" fill="#ba55d3"/>
<rect x="475.0" y="448.0" width="14.0" height="2.0" fill="#008000"/>
<rect x="493.0" y="452.0" width="5.0" height="2.0" fill="#00bfff"/>
<rect x="493.0" y="454.0" width="5.0" height="2.0" fill="#ba55d3"/>
<rect x="482.0" y="460.0" width="7.0" height="1.0" fill="#ba55d3"/>
<rect x="475.0" y="461.0" width="7.0" height="2.0" fill="#ff0000"/>
<rect x="482.0" y="471.0" width="7.0" height="2.0" fill="#ba55d3"/>
<rect x="482.0" y="499.0" width="7.0" height="1.0" fill="#3c3cff"/>
<rect x="482.0" y="510.0" width="7.0" height="2.0" fill="#ff0000"/>
<rect x="482.0" y="512.0" width="7.0" height="9.0" fill="#008000"/>
<rect x="482.0" y="521.0" width="7.0" height="2.0" fill="#00ffff"/>
<rect x="475.0" y="521.0" width="7.0" height="2.0" fill="#ff0000"/>
<rect x="517.0" y="417.0" width="7.0" height="2.0" fill="#00bfff"/>
<rect x="537.0" y="422.0" width="7.0" height="2.0" fill="#ff0000"/>
<rect x="517.0" y="441.0" width="7.0" height="2.0" fill="#00bfff"/>
<rect x="537.0" y="441.0" width="7.0" height="2.0" fill="#3c3cff"/>
<rect x="544.0" y="445.0" width="7.0" height="2.0" fill="#008000"/>
<rect x="537.0" y="447.0" width="7.0" height="1.0" fill="#3c3cff"/>
<rect x="530.0" y="448.0" width="7.0" height="2.0" fill="#ffd700"/>
<rect x="530.0" y="450.0" width="7.0" height="2.0" fill="#008000"/>
<rect x="537.0" y="448.0" width="7.0" height="4.0" fill="#00ffff"/>
<rect x="544.0" y="448.0" width="7.0" height="2.0" fill="#3c3cff"/>
<rect x="544.0" y="450.0" width="7.0" height="2.0" fill="#ff0000"/>
<rect x="557.0" y="448.0" width="7.0" height="2.0" fill="#00ffff"/>
<rect x="557.0" y="450.0" width="7.0" height="2.0" fill="#ffd700"/>
<rect x="524.0" y="452.0" width="6.0" height="2.0" fill="#00ffff"/>
<rect x="524.0" y="454.0" width="6.0" height="2.0" fill="#ffb6c1"/>
<rect x="530.0" y="452.0" width="21.0" height="2.0" fill="#3c3cff"/>
<rect x="537.0" y="454.0" width="14.0" height="2.0" fill="#ffd700"/>
<rect x="530.0" y="456.0" width="7.0" height="2.0" fill="#ba55d3"/>
<rect x="530.0" y="458.0" width="7.0" height="2.0" fill="#ffb6c1"/>
<rect x="537.0" y="456.0" width="7.0" height="2.0" fill="#00ffff"/>
<rect x="537.0" y="458.0" width="7.0" height="2.0" fill="#ff0000"/>
<rect x="544.0" y="456.0" width="7.0" height="5.0" fill="#3c3cff"/>
<rect x="544.0" y="461.0" width="7.0" height="2.0" fill="#ff0000"/>
<rect x="544.0" y="463.0" width="7.0" height="2.0" fill="#3c3cff"/>
<rect x="530.0" y="460.0" width="14.0" height="3.0" fill="#3c3cff"/>
<rect x="530.0" y="463.0" width="7.0" height="2.0" fill="#3c3cff"/>
<rect x="530.0" y="465.0" width="7.0" height="2.0" fill="#ba55d3"/>
<rect x="530.0" y="467.0" width="7.0" height="1.0" fill="#3c3cff"/>
<rect x="537.0" y="467.0" width="7.0" height="6.0" fill="#3c3cff"/>
<rect x="557.0" y="467.0" width="7.0" height="2.0" fill="#008000"/>
<rect x="530.0" y="471.0" width="7.0" height="2.0" fill="#ba55d3"/>
<rect x="524.0" y="473.0" width="6.0" height="1.0" fill="#008000"/>
<rect x="530.0" y="473.0" width="7.0" height="1.0" fill="#00ffff"/>
<rect x="530.0" y="474.0" width="7.0" height="4.0" fill="#3c3cff"/>
<rect x="537.0" y="473.0" width="7.0" height="3.0" fill="#008000"/>
<rect x="537.0" y="476.0" width="7.0" height="2.0" fill="#00bfff"/>
<rect x="544.0" y="473.0" width="7.0" height="1.0" fill="#3c3cff"/>
<rect x="544.0" y="474.0" width="7.0" height="4.0" fill="#008000"/>
<rect x="537.0" y="478.0" width="7.0" height="4.0" fill="#ba55d3"/>
<rect x="544.0" y="478.0" width="7.0" height="2.0" fill="#ff0000"/>
<rect x="544.0" y="480.0" width="7.0" height="2.0" fill="#3c3cff"/>
<rect x="530.0" y="482.0" width="7.0" height="2.0" fill="#3c3cff"/>
<rect x="530.0" y="484.0" width="7.0" height="2.0" fill="#008000"/>
<rect x="537.0" y="482.0" width="14.0" height="4.0" fill="#008000"/>
<rect x="544.0" y="486.0" width="7.0" height="1.0" fill="#008000"/>
<rect x="544.0" y="487.0" width="7.0" height="2.0" fill="#00ffff"/>
<rect x="537.0" y="489.0" width="7.0" height="2.0" fill="#ff0000"/>
<rect x="537.0" y="491.0" width="14.0" height="2.0" fill="#008000"/>
<rect x="530.0" y="493.0" width="7.0" height="2.0" fill="#ff0000"/>
<rect x="530.0" y="495.0" width="7.0" height="5.0" fill="#008000"/>
<rect x="530.0" y="500.0" width="7.0" height="2.0" fill="#3c3cff"/>
<rect x="544.0" y="495.0" width="7.0" height="4.0" fill="#008000"/>
<rect x="537.0" y="502.0" width="7.0" height="4.0" fill="#008000"/>
<rect x="530.0" y="508.0" width="7.0" height="2.0" fill="#008000"/>
<rect x="537.0" y="508.0" width="7.0" height="4.0" fill="#ff0000"/>
<rect x="311.0" y="413.0" width="4.0" height="2.0" fill="#3c3cff"/>
<rect x="311.0" y="419.0" width="4.0" height="2.0" fill="#ba55d3"/>
<rect x="287.0" y="433.0" width="4.0" height="1.0" fill="#ffb6c1"/>
<rect x="277.0" y="437.0" width="3.0" height="2.0" fill="#008000"/>
<rect x="524.0" y="324.0" width="6.0" height="2.0" fill="#ff0000"/>
<rect x="524.0" y="361.0" width="6.0" height="2.0" fill="#008000"/>
<rect x="524.0" y="363.0" width="6.0" height="2.0" fill="#ff0000"/>
<rect x="517.0" y="369.0" width="7.0" height="1.0" fill="#00bfff"/>
<rect x="524.0" y="398.0" width="6.0" height="2.0" fill="#ffb6c1"/>
<rect x="577.0" y="402.0" width="6.0" height="2.0" fill="#3c3cff"/>
<rect x="577.0" y="411.0" width="6.0" height="2.0" fill="#008000"/>
<rect x="577.0" y="448.0" width="6.0" height="2.0" fill="#ff0000"/>
<rect x="524.0" y="565.0" width="6.0" height="4.0" fill="#008000"/>
<rect x="524.0" y="584.0" width="6.0" height="4.0" fill="#008000"/>
<rect x="524.0" y="602.0" width="6.0" height="4.0" fill="#008000"/>
<rect x="524.0" y="621.0" width="6.0" height="2.0" fill="#008000"/>
<rect x="524.0" y="623.0" width="6.0" height="2.0" fill="#ff0000"/>
<rect x="611.0" y="253.0" width="12.0" height="2.0" fill="#ff0000"/>
<rect x="611.0" y="279.0" width="12.0" height="2.0" fill="#ff0000"/>
<rect x="611.0" y="291.0" width="12.0" height="1.0" fill="#ff0000"/>
<rect x="673.0" y="168.0" width="11.0" height="2.0" fill="#ba55d3"/>
<rect x="673.0" y="177.0" width="11.0" height="4.0" fill="#ff0000"/>
<rect x="673.0" y="189.0" width="11.0" height="1.0" fill="#ba55d3"/>
<rect x="673.0" y="207.0" width="11.0" height="2.0" fill="#ff0000"/>
<rect x="673.0" y="218.0" width="11.0" height="2.0" fill="#ba55d3"/>
<rect x="673.0" y="279.0" width="11.0" height="2.0" fill="#ba55d3"/>
<rect x="673.0" y="289.0" width="11.0" height="2.0" fill="#00bfff"/>
<rect x="673.0" y="299.0" width="11.0" height="1.0" fill="#ff0000"/>
<rect x="673.0" y="328.0" width="11.0" height="2.0" fill="#ff0000"/>
<rect x="673.0" y="330.0" width="11.0" height="1.0" fill="#ba55d3"/>
<rect x="673.0" y="337.0" width="11.0" height="2.0" fill="#ba55d3"/>
<rect x="673.0" y="339.0" width="11.0" height="2.0" fill="#ff0000"/>
<rect x="673.0" y="380.0" width="11.0" height="2.0" fill="#ff0000"/>
<rect x="673.0" y="409.0" width="11.0" height="2.0" fill="#008000"/>
<rect x="673.0" y="411.0" width="11.0" height="2.0" fill="#ff0000"/>
<rect x="673.0" y="430.0" width="11.0" height="2.0" fill="#ff0000"/>
<rect x="673.0" y="450.0" width="11.0" height="2.0" fill="#ba55d3"/>
<rect x="673.0" y="460.0" width="11.0" height="3.0" fill="#ff0000"/>
<rect x="673.0" y="469.0" width="11.0" height="2.0" fill="#ba55d3"/>
<rect x="673.0" y="480.0" width="11.0" height="2.0" fill="#ff0000"/>
<rect x="673.0" y="510.0" width="11.0" height="2.0" fill="#ff0000"/>
<rect x="673.0" y="512.0" width="11.0" height="1.0" fill="#ba55d3"/>
<rect x="673.0" y="521.0" width="11.0" height="2.0" fill="#ba55d3"/>
<rect x="673.0" y="541.0" width="11.0" height="2.0" fill="#ba55d3"/>
<rect x="673.0" y="562.0" width="11.0" height="1.0" fill="#ba55d3"/>
<rect x="684.0" y="563.0" width="10.0" height="2.0" fill="#ffb6c1"/>
<rect x="684.0" y="565.0" width="10.0" height="4.0" fill="#ba55d3"/>
<rect x="684.0" y="576.0" width="10.0" height="2.0" fill="#ba55d3"/>
<rect x="684.0" y="578.0" width="10.0" height="2.0" fill="#00bfff"/>
<rect x="684.0" y="580.0" width="10.0" height="2.0" fill="#ff0000"/>
<rect x="684.0" y="582.0" width="10.0" height="6.0" fill="#ba55d3"/>
<rect x="684.0" y="589.0" width="10.0" height="2.0" fill="#00bfff"/>
<rect x="684.0" y="591.0" width="10.0" height="4.0" fill="#ba55d3"/>
<rect x="684.0" y="599.0" width="10.0" height="2.0" fill="#00bfff"/>
<rect x="684.0" y="601.0" width="10.0" height="3.0" fill="#ba55d3"/>
<rect x="684.0" y="606.0" width="10.0" height="4.0" fill="#00bfff"/>
<rect x="673.0" y="612.0" width="11.0" height="2.0" fill="#ff0000"/>
<rect x="684.0" y="614.0" width="10.0" height="1.0" fill="#ba55d3"/>
<rect x="684.0" y="615.0" width="10.0" height="2.0" fill="#00bfff"/>
<rect x="684.0" y="619.0" width="10.0" height="4.0" fill="#ba55d3"/>
<rect x="684.0" y="625.0" width="10.0" height="3.0" fill="#ba55d3"/>
<rect x="684.0" y="630.0" width="10.0" height="2.0" fill="#00bfff"/>
<rect x="684.0" y="632.0" width="10.0" height="2.0" fill="#ba55d3"/>
<rect x="684.0" y="634.0" width="10.0" height="2.0" fill="#00bfff"/>
<rect x="684.0" y="636.0" width="10.0" height="2.0" fill="#ff0000"/>
<rect x="684.0" y="638.0" width="10.0" height="2.0" fill="#ba55d3"/>
<rect x="673.0" y="641.0" width="21.0" height="2.0" fill="#ba55d3"/>
<rect x="684.0" y="647.0" width="10.0" height="2.0" fill="#ba55d3"/>
<rect x="684.0" y="651.0" width="10.0" height="2.0" fill="#00bfff"/>
<rect x="673.0" y="653.0" width="11.0" height="1.0" fill="#ba55d3"/>
<rect x="684.0" y="654.0" width="10.0" height="2.0" fill="#00bfff"/>
<rect x="684.0" y="658.0" width="10.0" height="2.0" fill="#ba55d3"/>
<rect x="673.0" y="734.0" width="11.0" height="2.0" fill="#00bfff"/>
<rect x="705.0" y="227.0" width="12.0" height="2.0" fill="#ff0000"/>
<rect x="705.0" y="276.0" width="12.0" height="2.0" fill="#ff0000"/>
<rect x="705.0" y="294.0" width="12.0" height="2.0" fill="#008000"/>
<rect x="705.0" y="296.0" width="12.0" height="9.0" fill="#ff0000"/>
<rect x="705.0" y="305.0" width="12.0" height="2.0" fill="#008000"/>
<rect x="705.0" y="307.0" width="12.0" height="2.0" fill="#ff0000"/>
<rect x="705.0" y="309.0" width="12.0" height="2.0" fill="#008000"/>
<rect x="705.0" y="311.0" width="12.0" height="7.0" fill="#ff0000"/>
<rect x="705.0" y="331.0" width="12.0" height="2.0" fill="#008000"/>
<rect x="705.0" y="333.0" width="12.0" height="2.0" fill="#ff0000"/>
<rect x="705.0" y="335.0" width="12.0" height="2.0" fill="#ba55d3"/>
<rect x="705.0" y="337.0" width="12.0" height="2.0" fill="#008000"/>
<rect x="705.0" y="339.0" width="12.0" height="2.0" fill="#ba55d3"/>
<rect x="705.0" y="370.0" width="12.0" height="6.0" fill="#ff0000"/>
<rect x="705.0" y="395.0" width="12.0" height="1.0" fill="#ff0000"/>
<rect x="705.0" y="396.0" width="12.0" height="2.0" fill="#008000"/>
<rect x="705.0" y="398.0" width="12.0" height="2.0" fill="#ff0000"/>
<rect x="705.0" y="400.0" width="12.0" height="2.0" fill="#008000"/>
<rect x="730.0" y="370.0" width="16.0" height="2.0" fill="#008000"/>
<rect x="730.0" y="372.0" width="16.0" height="4.0" fill="#ff0000"/>
<rect x="730.0" y="382.0" width="16.0" height="3.0" fill="#008000"/>
<rect x="730.0" y="385.0" width="16.0" height="2.0" fill="#ff0000"/>
<rect x="730.0" y="396.0" width="16.0" height="2.0" fill="#008000"/>
<rect x="730.0" y="398.0" width="16.0" height="2.0" fill="#ff0000"/>
<rect x="730.0" y="400.0" width="16.0" height="4.0" fill="#008000"/>
<rect x="730.0" y="413.0" width="16.0" height="4.0" fill="#008000"/>
<rect x="730.0" y="417.0" width="16.0" height="4.0" fill="#ff0000"/>
<rect x="730.0" y="430.0" width="16.0" height="2.0" fill="#ff0000"/>
<rect x="730.0" y="433.0" width="16.0" height="2.0" fill="#008000"/>
<rect x="730.0" y="447.0" width="16.0" height="9.0" fill="#ff0000"/>
<rect x="730.0" y="456.0" width="16.0" height="2.0" fill="#008000"/>
<rect x="730.0" y="458.0" width="16.0" height="2.0" fill="#ff0000"/>
<rect x="730.0" y="460.0" width="16.0" height="3.0" fill="#008000"/>
<rect x="730.0" y="463.0" width="16.0" height="4.0" fill="#ff0000"/>
<rect x="730.0" y="467.0" width="16.0" height="2.0" fill="#00bfff"/>
<rect x="730.0" y="469.0" width="16.0" height="2.0" fill="#ff0000"/>
<rect x="730.0" y="471.0" width="16.0" height="3.0" fill="#008000"/>
<rect x="730.0" y="504.0" width="16.0" height="2.0" fill="#008000"/>
<rect x="730.0" y="506.0" width="16.0" height="4.0" fill="#00bfff"/>
<rect x="730.0" y="510.0" width="16.0" height="2.0" fill="#ff0000"/>
<rect x="730.0" y="512.0" width="16.0" height="3.0" fill="#008000"/>
<rect x="730.0" y="515.0" width="16.0" height="2.0" fill="#00bfff"/>
<rect x="730.0" y="517.0" width="16.0" height="2.0" fill="#008000"/>
<rect x="730.0" y="519.0" width="16.0" height="4.0" fill="#ff0000"/>
<rect x="730.0" y="523.0" width="16.0" height="3.0" fill="#008000"/>
<rect x="730.0" y="526.0" width="16.0" height="2.0" fill="#ff0000"/>
<rect x="730.0" y="528.0" width="16.0" height="2.0" fill="#ffb6c1"/>
<rect x="730.0" y="530.0" width="16.0" height="2.0" fill="#008000"/>
<rect x="730.0" y="532.0" width="16.0" height="2.0" fill="#ff0000"/>
<rect x="730.0" y="534.0" width="16.0" height="2.0" fill="#00bfff"/>
<rect x="730.0" y="536.0" width="16.0" height="1.0" fill="#ff0000"/>
<rect x="730.0" y="547.0" width="16.0" height="2.0" fill="#00bfff"/>
<rect x="730.0" y="565.0" width="16.0" height="2.0" fill="#00bfff"/>
<rect x="730.0" y="567.0" width="16.0" height="2.0" fill="#ff0000"/>
<rect x="730.0" y="569.0" width="16.0" height="2.0" fill="#ffb6c1"/>
<rect x="730.0" y="571.0" width="16.0" height="5.0" fill="#ff0000"/>
<rect x="730.0" y="576.0" width="16.0" height="2.0" fill="#008000"/>
<rect x="730.0" y="578.0" width="16.0" height="2.0" fill="#00bfff"/>
<rect x="730.0" y="580.0" width="16.0" height="13.0" fill="#ff0000"/>
<rect x="730.0" y="593.0" width="16.0" height="2.0" fill="#ffb6c1"/>
<rect x="730.0" y="595.0" width="16.0" height="7.0" fill="#ff0000"/>
<rect x="730.0" y="602.0" width="16.0" height="2.0" fill="#ffb6c1"/>
<rect x="730.0" y="604.0" width="16.0" height="15.0" fill="#ff0000"/>
<rect x="730.0" y="619.0" width="16.0" height="2.0" fill="#008000"/>
<rect x="730.0" y="621.0" width="16.0" height="2.0" fill="#ff0000"/>
<rect x="730.0" y="625.0" width="16.0" height="2.0" fill="#ff0000"/>
<rect x="154.0" y="684.0" width="3.0" height="2.0" fill="#3c3cff"/>
<rect x="154.0" y="688.0" width="3.0" height="2.0" fill="#ffb6c1"/>
<rect x="161.0" y="686.0" width="3.0" height="4.0" fill="#ffb6c1"/>
<rect x="174.0" y="686.0" width="3.0" height="2.0" fill="#00ffff"/>
<rect x="180.0" y="684.0" width="4.0" height="2.0" fill="#ba55d3"/>
<rect x="180.0" y="686.0" width="4.0" height="2.0" fill="#ffd700"/>
<rect x="187.0" y="688.0" width="4.0" height="2.0" fill="#00bfff"/>
<rect x="187.0" y="690.0" width="4.0" height="2.0" fill="#ff0000"/>
<rect x="184.0" y="690.0" width="3.0" height="2.0" fill="#ffb6c1"/>
<rect x="154.0" y="697.0" width="3.0" height="2.0" fill="#ff0000"/>
<rect x="154.0" y="699.0" width="3.0" height="2.0" fill="#00ffff"/>
<rect x="161.0" y="699.0" width="3.0" height="4.0" fill="#ffb6c1"/>
<rect x="150.0" y="701.0" width="4.0" height="5.0" fill="#ffb6c1"/>
<rect x="154.0" y="703.0" width="3.0" height="2.0" fill="#ba55d3"/>
<rect x="157.0" y="703.0" width="7.0" height="2.0" fill="#ffb6c1"/>
<rect x="154.0" y="705.0" width="10.0" height="3.0" fill="#ffb6c1"/>
<rect x="164.0" y="705.0" width="3.0" height="1.0" fill="#ffb6c1"/>
<rect x="154.0" y="708.0" width="3.0" height="2.0" fill="#ffb6c1"/>
<rect x="157.0" y="708.0" width="7.0" height="2.0" fill="#ff0000"/>
<rect x="150.0" y="710.0" width="7.0" height="4.0" fill="#ff0000"/>
<rect x="157.0" y="710.0" width="7.0" height="2.0" fill="#00bfff"/>
<rect x="157.0" y="712.0" width="4.0" height="2.0" fill="#ba55d3"/>
<rect x="150.0" y="714.0" width="4.0" height="2.0" fill="#ff0000"/>
<rect x="169.0" y="699.0" width="3.0" height="2.0" fill="#ba55d3"/>
<rect x="169.0" y="701.0" width="3.0" height="2.0" fill="#00bfff"/>
<rect x="172.0" y="703.0" width="2.0" height="3.0" fill="#00bfff"/>
<rect x="177.0" y="697.0" width="3.0" height="2.0" fill="#ffd700"/>
<rect x="180.0" y="697.0" width="4.0" height="4.0" fill="#ffb6c1"/>
<rect x="187.0" y="699.0" width="4.0" height="2.0" fill="#ba55d3"/>
<rect x="196.0" y="697.0" width="2.0" height="2.0" fill="#008000"/>
<rect x="196.0" y="699.0" width="2.0" height="2.0" fill="#ffb6c1"/>
<rect x="196.0" y="701.0" width="2.0" height="2.0" fill="#ffd700"/>
<rect x="177.0" y="701.0" width="10.0" height="2.0" fill="#ba55d3"/>
<rect x="177.0" y="703.0" width="3.0" height="2.0" fill="#ff0000"/>
<rect x="180.0" y="703.0" width="7.0" height="3.0" fill="#ba55d3"/>
<rect x="187.0" y="701.0" width="4.0" height="4.0" fill="#ff0000"/>
<rect x="191.0" y="701.0" width="2.0" height="4.0" fill="#ba55d3"/>
<rect x="193.0" y="701.0" width="3.0" height="2.0" fill="#ffb6c1"/>
<rect x="193.0" y="703.0" width="3.0" height="2.0" fill="#ba55d3"/>
<rect x="193.0" y="705.0" width="3.0" height="1.0" fill="#008000"/>
<rect x="184.0" y="706.0" width="3.0" height="2.0" fill="#008000"/>
<rect x="191.0" y="706.0" width="2.0" height="2.0" fill="#ff0000"/>
<rect x="180.0" y="708.0" width="4.0" height="2.0" fill="#3c3cff"/>
<rect x="187.0" y="708.0" width="4.0" height="2.0" fill="#3c3cff"/>
<rect x="191.0" y="708.0" width="2.0" height="2.0" fill="#008000"/>
<rect x="184.0" y="710.0" width="3.0" height="2.0" fill="#3c3cff"/>
<rect x="203.0" y="684.0" width="5.0" height="2.0" fill="#ffb6c1"/>
<rect x="208.0" y="686.0" width="4.0" height="2.0" fill="#ffb6c1"/>
<rect x="199.0" y="699.0" width="4.0" height="2.0" fill="#ffb6c1"/>
<rect x="199.0" y="701.0" width="4.0" height="4.0" fill="#ba55d3"/>
<rect x="203.0" y="703.0" width="5.0" height="3.0" fill="#ba55d3"/>
<rect x="208.0" y="701.0" width="4.0" height="4.0" fill="#ffb6c1"/>
<rect x="208.0" y="705.0" width="4.0" height="1.0" fill="#ba55d3"/>
<rect x="248.0" y="736.0" width="4.0" height="2.0" fill="#ffb6c1"/>
<rect x="226.0" y="467.0" width="6.0" height="2.0" fill="#00ffff"/>
</g>
<g stroke="#b0b0b0" stroke-width="1">
<line x1="138.5" y1="100" x2="138.5" y2="794"/>
<line x1="230.5" y1="100" x2="230.5" y2="794"/>
<line x1="323.5" y1="100" x2="323.5" y2="794"/>
<line x1="415.5" y1="100" x2="415.5" y2="794"/>
<line x1="508.5" y1="100" x2="508.5" y2="794"/>
<line x1="600.5" y1="100" x2="600.5" y2="794"/>
<line x1="692.5" y1="100" x2="692.5" y2="794"/>
<line x1="92" y1="174.5" x2="786" y2="174.5"/>
<line x1="92" y1="298.5" x2="786" y2="298.5"/>
<line x1="92" y1="421.5" x2="786" y2="421.5"/>
<line x1="92" y1="545.5" x2="786" y2="545.5"/>
<line x1="92" y1="669.5" x2="786" y2="669.5"/>
</g>
<g stroke="#000" stroke-width="1" fill="none">
<rect x="92.5" y="100.5" width="693" height="693"/>
</g>
<g stroke="#000" stroke-width="1">
<line x1="138.5" y1="794" x2="138.5" y2="799"/>
<line x1="230.5" y1="794" x2="230.5" y2="799"/>
<line x1="323.5" y1="794" x2="323.5" y2="799"/>
<line x1="415.5" y1="794" x2="415.5" y2="799"/>
<line x1="508.5" y1="794" x2="508.5" y2="799"/>
<line x1="600.5" y1="794" x2="600.5" y2="799"/>
<line x1="692.5" y1="794" x2="692.5" y2="799"/>
<line x1="785.5" y1="794" x2="785.5" y2="799"/>
<line x1="87" y1="174.5" x2="92" y2="174.5"/>
<line x1="87" y1="298.5" x2="92" y2="298.5"/>
<line x1="87" y1="421.5" x2="92" y2="421.5"/>
<line x1="87" y1="545.5" x2="92" y2="545.5"/>
<line x1="87" y1="669.5" x2="92" y2="669.5"/>
<line x1="87" y1="793.5" x2="92" y2="793.5"/>
</g>
<g font-size="16.4" text-anchor="middle">
<text x="138.50" y="815">2</text>
<text x="231.50" y="815">4</text>
<text x="323.30" y="815">6</text>
<text x="415.20" y="815">8</text>
<text x="508.10" y="815">10</text>
<text x="600.50" y="815">12</text>
<text x="692.90" y="815">14</text>
<text x="785.30" y="815">16</text>
</g>
<g font-size="16.4" text-anchor="end">
<text x="82.6" y="799">0</text>
<text x="81.2" y="675">200</text>
<text x="82.2" y="552">400</text>
<text x="81.2" y="428">600</text>
<text x="81.2" y="304">800</text>
<text x="81.6" y="180">1000</text>
</g>
<text x="437.7" y="841.5" font-size="24" text-anchor="middle">Frequency (MHz)</text>
<text transform="translate(28.2,447.2) rotate(-90)" font-size="24" text-anchor="middle">Virtual height (km)</text>
<text x="426" y="32" font-size="28.85" text-anchor="middle">NAL CADI - Dec 07 09:30:00 2024 UTC</text>
<rect x="816" y="82" width="31" height="90" fill="#00bfff"/>
<rect x="816" y="172" width="31" height="90" fill="#00ffff"/>
<rect x="816" y="262" width="31" height="90" fill="#ffd700"/>
<rect x="816" y="352" width="31" height="90" fill="#ffb6c1"/>
<rect x="816" y="442" width="31" height="90" fill="#ba55d3"/>
<rect x="816" y="532" width="31" height="90" fill="#3c3cff"/>
<rect x="816" y="622" width="31" height="90" fill="#ff0000"/>
<rect x="816" y="712" width="31" height="90" fill="#008000"/>
<rect x="816.5" y="82.5" width="30" height="720" fill="none" stroke="#000" stroke-width="1"/>
<g stroke="#000" stroke-width="1">
<line x1="847" y1="82.5" x2="850" y2="82.5"/>
<line x1="847" y1="172.5" x2="850" y2="172.5"/>
<line x1="847" y1="262.5" x2="850" y2="262.5"/>
<line x1="847" y1="352.5" x2="850" y2="352.5"/>
<line x1="847" y1="442.5" x2="850" y2="442.5"/>
<line x1="847" y1="532.5" x2="850" y2="532.5"/>
<line x1="847" y1="622.5" x2="850" y2="622.5"/>
<line x1="847" y1="712.5" x2="850" y2="712.5"/>
<line x1="847" y1="802.5" x2="850" y2="802.5"/>
<line x1="847" y1="127.5" x2="852" y2="127.5"/>
<line x1="847" y1="217.5" x2="852" y2="217.5"/>
<line x1="847" y1="307.5" x2="852" y2="307.5"/>
<line x1="847" y1="397.5" x2="852" y2="397.5"/>
<line x1="847" y1="487.5" x2="852" y2="487.5"/>
<line x1="847" y1="577.5" x2="852" y2="577.5"/>
<line x1="847" y1="667.5" x2="852" y2="667.5"/>
<line x1="847" y1="757.5" x2="852" y2="757.5"/>
</g>
<g font-size="16.4">
<text x="856" y="133.30">NNE</text>
<text x="856" y="223.30">E</text>
<text x="856" y="313.30">SSE</text>
<text x="856" y="403.30">SSW</text>
<text x="856" y="493.30">W</text>
<text x="856" y="583.30">NNW</text>
<text x="856" y="673.30">Vertical</text>
<text x="856" y="763.30">X-mode</text>
</g>
<text transform="translate(943,442.8) rotate(-90)" font-size="24" text-anchor="middle">Azimuth Direction</text>
</svg></body></html>
